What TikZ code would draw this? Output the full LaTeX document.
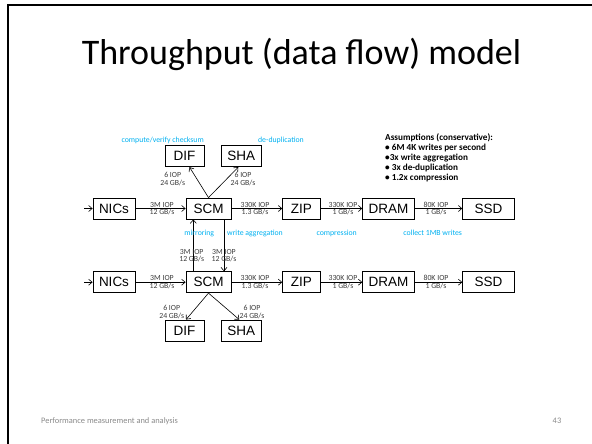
\documentclass[tikz,border=0pt]{standalone}
\usepackage{fontspec}
\setmainfont{Carlito}
\newfontfamily\unitfont{Liberation Sans}
\usetikzlibrary{arrows.meta,positioning}
\definecolor{NoteBlue}{RGB}{0,176,240}
\definecolor{RateGray}{RGB}{60,60,60}
\definecolor{FootGray}{RGB}{137,137,137}

\tikzset{
  unit/.style={draw,line width=0.8pt,minimum height=21pt,inner sep=0pt,
    font=\unitfont\fontsize{13.5}{14}\selectfont},
  rate/.style={inner sep=0pt,align=center,text=RateGray,
    font=\fontsize{7.8}{7.6}\selectfont},
  note/.style={inner sep=0pt,text=NoteBlue,font=\fontsize{7.8}{8}\selectfont},
  flow/.style={->,line width=0.6pt}
}

\begin{document}
\begin{tikzpicture}[x=1pt,y=-1pt,>={Straight Barb[length=3.5pt,width=6pt]}]
      \useasboundingbox (0,0) rectangle (592,444);
      % slide frame and title
      \draw[line width=2pt] (8,444) -- (8,5) -- (592,5);
      \node[anchor=base,inner sep=0pt,font=\fontsize{36}{40}\selectfont] (title)
        at (301.5,65) {Throughput (data flow) model};
      % first row
      \coordinate (inA) at (84,208.5);
      \node[unit,minimum width=42pt] (nicsA) at (114,208.5) {NICs};
      \node[unit,minimum width=45pt] (scmA) at (208.5,208.5) {SCM};
      \node[unit,minimum width=37.3pt] (zipA) at (301.3,208.5) {ZIP};
      \node[unit,minimum width=51.6pt] (dramA) at (388.5,208.5) {DRAM};
      \node[unit,minimum width=51.6pt] (ssdA) at (488.5,208.5) {SSD};
      \node[unit,minimum width=39pt] (difA) at (184.5,156.2) {DIF};
      \node[unit,minimum width=39.3pt] (shaA) at (241.3,156.2) {SHA};
      % second row
      \coordinate (inB) at (84,282.2);
      \node[unit,minimum width=42pt] (nicsB) at (114,282.2) {NICs};
      \node[unit,minimum width=45pt] (scmB) at (208.5,282.2) {SCM};
      \node[unit,minimum width=37.3pt] (zipB) at (301.3,282.2) {ZIP};
      \node[unit,minimum width=51.6pt] (dramB) at (388.5,282.2) {DRAM};
      \node[unit,minimum width=51.6pt] (ssdB) at (488.5,282.2) {SSD};
      \node[unit,minimum width=39pt] (difB) at (184.5,330.5) {DIF};
      \node[unit,minimum width=39.3pt] (shaB) at (241.3,330.5) {SHA};
      % flows
      \draw[flow] (inA) -- (nicsA);
      \draw[flow] (nicsA) -- (scmA);
      \draw[flow] (scmA) -- (zipA);
      \draw[flow] (zipA) -- (dramA);
      \draw[flow] (dramA) -- (ssdA);
      \draw[flow] (scmA.north) -- ([xshift=5pt]difA.south);
      \draw[flow] (scmA.north) -- ([xshift=-3pt]shaA.south);
      \draw[flow] (inB) -- (nicsB);
      \draw[flow] (nicsB) -- (scmB);
      \draw[flow] (scmB) -- (zipB);
      \draw[flow] (zipB) -- (dramB);
      \draw[flow] (dramB) -- (ssdB);
      \draw[flow] (scmB.south) -- ([xshift=1.5pt]difB.north);
      \draw[flow] (scmB.south) -- ([xshift=-2pt]shaB.north);
      \draw[flow] ([xshift=-15.2pt]scmB.north) -- ([xshift=-15.2pt]scmA.south);
      \draw[flow] ([xshift=15.5pt]scmA.south) -- ([xshift=15.5pt]scmB.north);
      % rates
      \node[rate] (rNicsA) at (162,208.7) {3M IOP\\12 GB/s};
      \node[rate] (rScmA) at (255,208.7) {330K IOP\\1.3 GB/s};
      \node[rate] (rZipA) at (343,208.7) {330K IOP\\1 GB/s};
      \node[rate] (rDramA) at (436,208.7) {80K IOP\\1 GB/s};
      \node[rate] (rDifA) at (172.7,179.3) {6 IOP\\24 GB/s};
      \node[rate] (rShaA) at (243,179.3) {6 IOP\\24 GB/s};
      \node[rate] (rNicsB) at (162,282.2) {3M IOP\\12 GB/s};
      \node[rate] (rScmB) at (255,282.2) {330K IOP\\1.3 GB/s};
      \node[rate] (rZipB) at (343,282.2) {330K IOP\\1 GB/s};
      \node[rate] (rDramB) at (436,282.2) {80K IOP\\1 GB/s};
      \node[rate] (rDifB) at (171.7,312) {6 IOP\\24 GB/s};
      \node[rate] (rShaB) at (252,312) {6 IOP\\24 GB/s};
      \node[rate] (rMirror) at (191.7,255.5) {3M IOP\\12 GB/s};
      \node[rate] (rAggr) at (224,255.5) {3M IOP\\12 GB/s};
      % notes
      \node[note] (nCheck) at (162.7,140.7) {compute/verify checksum};
      \node[note] (nDedup) at (281,140.7) {de-duplication};
      \node[note] (nMirror) at (199.3,233.3) {mirroring};
      \node[note] (nAggr) at (255,233.3) {write aggregation};
      \node[note] (nZip) at (336.7,233.3) {compression};
      \node[note] (nCollect) at (432.7,233.3) {collect 1MB writes};
      \node[anchor=north west,inner sep=0pt,align=left,
        font=\bfseries\fontsize{9.2}{10.2}\selectfont] (assume) at (385,133)
        {Assumptions (conservative):\\
         • 6M 4K writes per second\\
         •3x write aggregation\\
         • 3x de-duplication\\
         • 1.2x compression};
      % footer
      \node[anchor=west,inner sep=0pt,text=FootGray,font=\fontsize{8.4}{9}\selectfont]
        (foot) at (41,421) {Performance measurement and analysis};
      \node[inner sep=0pt,text=FootGray,font=\fontsize{8.4}{9}\selectfont]
        (page) at (557,421) {43};
    \end{tikzpicture}
\end{document}
